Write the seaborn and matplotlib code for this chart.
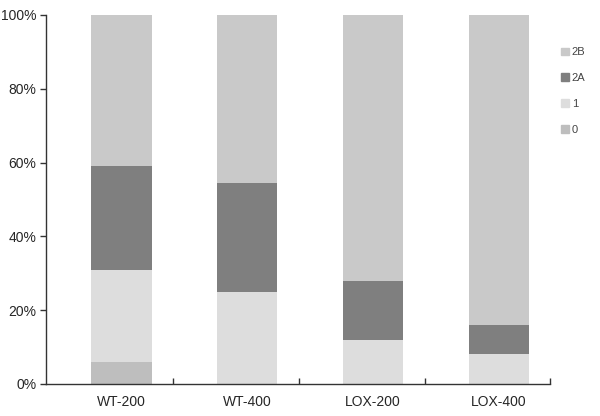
import matplotlib
matplotlib.use("Agg")
import matplotlib.pyplot as plt
import matplotlib.patches as mpatches
import numpy as np
import pandas as pd
import seaborn as sns

# Données (pourcentages)
groupes = ["WT-200", "WT-400", "LOX-200", "LOX-400"]
classes = ["0", "1", "2A", "2B"]
val_0 = [6, 0, 0, 0]
val_1 = [25, 25, 12, 8]
val_2a = [28, 29.5, 16, 8]
val_2b = [41, 45.5, 72, 84]

couleurs = {"0": "#bebebe", "1": "#dddddd", "2A": "#7f7f7f", "2B": "#c9c9c9"}

sns.set_theme(style="white")
plt.rcParams["font.family"] = ["Liberation Sans", "DejaVu Sans"]

df = pd.DataFrame({"groupe": groupes, "0": val_0, "1": val_1,
                   "2A": val_2a, "2B": val_2b})
cumul = df[classes].cumsum(axis=1)

fig = plt.figure(figsize=(6, 4.16), dpi=100)
ax = fig.add_axes([0.077, 0.077, 0.84, 0.887])

# barres empilées : on trace les cumuls du plus haut au plus bas
for cl in reversed(classes):
    sns.barplot(x=df["groupe"], y=cumul[cl], color=couleurs[cl],
                width=0.48, saturation=1, linewidth=0, ax=ax)

ax.set_xlim(-0.6, 3.41)
ax.set_ylim(0, 100)
ax.set_yticks(np.arange(0, 101, 20))
ax.set_yticklabels([f"{v}%" for v in range(0, 101, 20)], fontsize=10)
ax.set_xticks(range(len(groupes)))
ax.set_xticklabels(groupes, fontsize=10)
ax.set_xticks([0.41, 1.41, 2.41, 3.41], minor=True)
ax.tick_params(axis="x", which="major", bottom=True, length=0, pad=8)
ax.tick_params(axis="x", which="minor", bottom=True, direction="in",
               length=4, width=1, color="#333333")
ax.tick_params(axis="y", left=True, direction="out", length=4, width=1,
               color="#333333", pad=3)
ax.set_xlabel("")
ax.set_ylabel("")

for s in ["top", "right"]:
    ax.spines[s].set_visible(False)
for s in ["left", "bottom"]:
    ax.spines[s].set_color("#333333")
    ax.spines[s].set_linewidth(1)

poignees = [mpatches.Patch(color=couleurs[c], label=c) for c in reversed(classes)]
fig.legend(handles=poignees, loc="upper left", bbox_to_anchor=(0.918, 0.91),
           frameon=False, fontsize=8, handlelength=0.7, handleheight=0.7,
           handletextpad=0.3, labelspacing=1.42, labelcolor="#444444")

fig.savefig("out.png", dpi=100)
